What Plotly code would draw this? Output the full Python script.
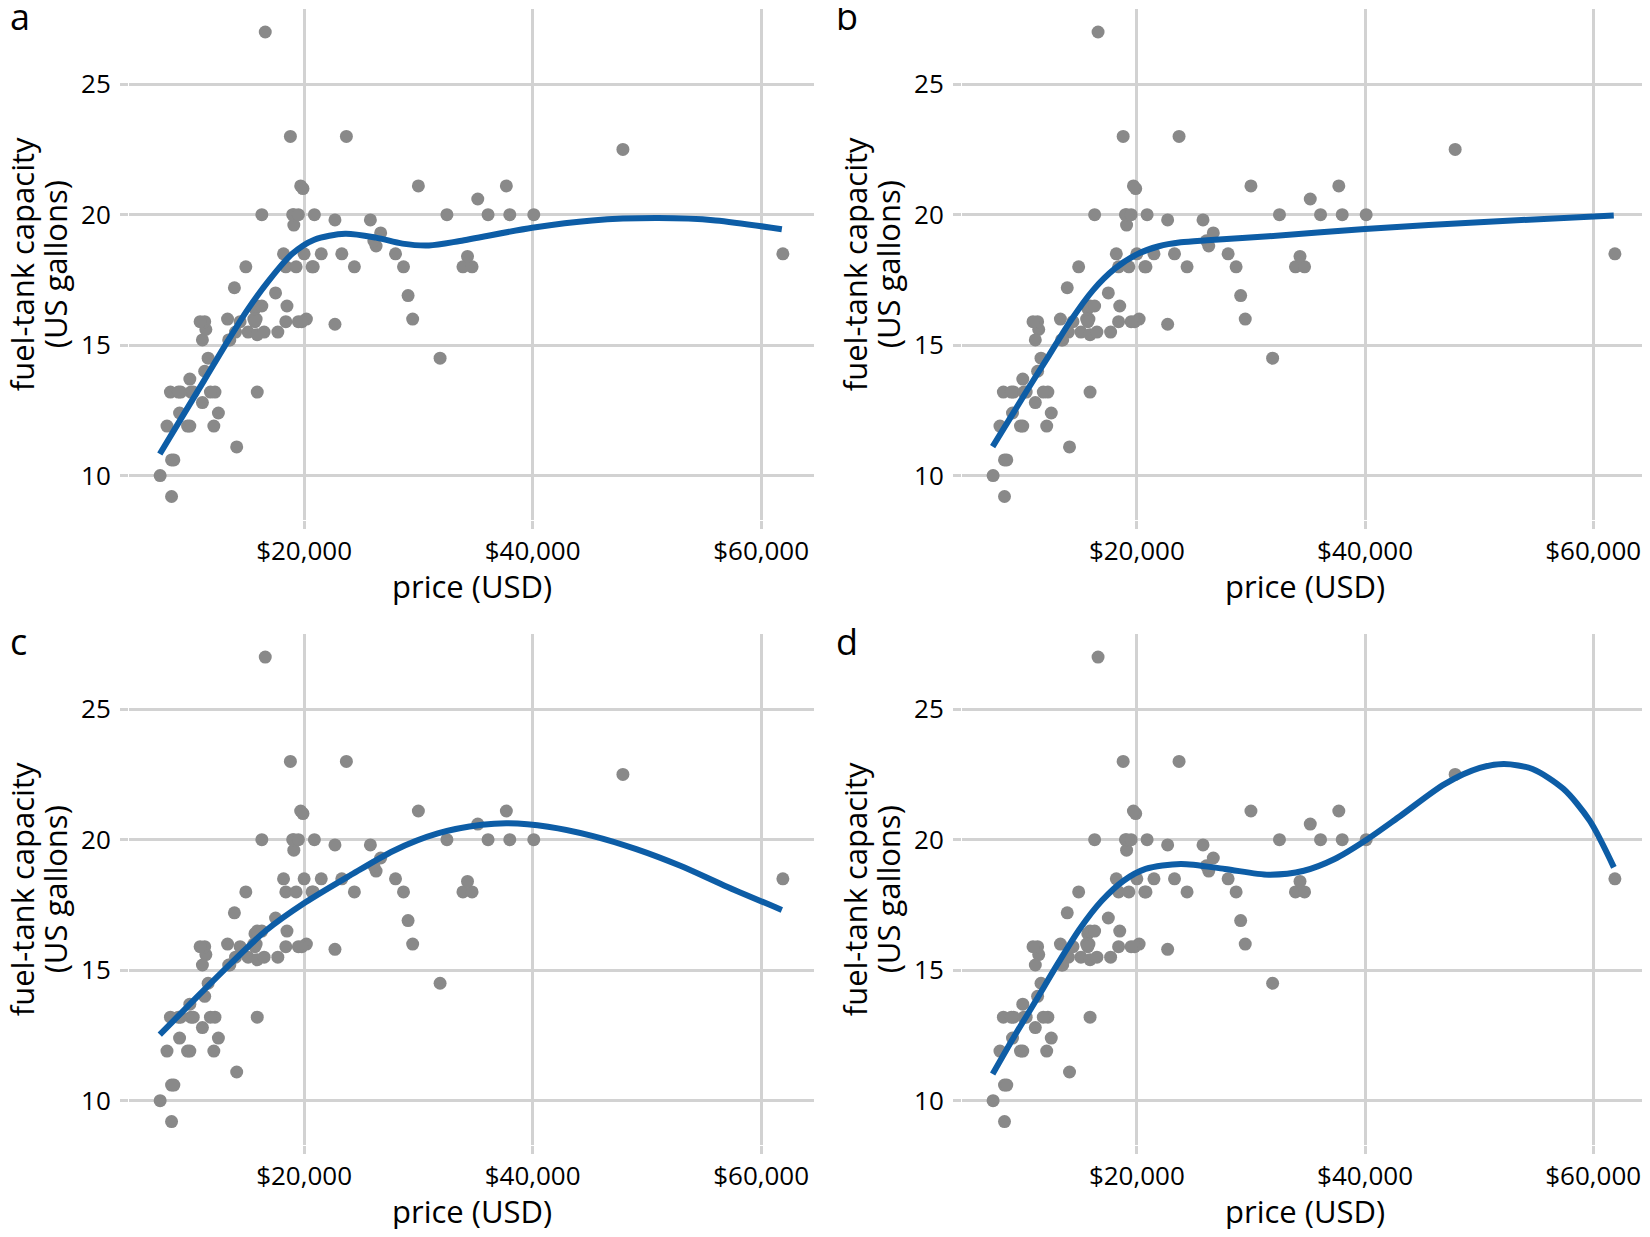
import plotly.graph_objects as go

# Cars93: price (USD) and fuel-tank capacity (US gallons)
price = [15900, 33900, 29100, 37700, 30000, 15700, 20800, 23700, 26300, 34700,
         40100, 13400, 11400, 15100, 15900, 16300, 16600, 18800, 38000, 18400,
         15800, 29500, 9200, 11300, 13300, 19000, 15600, 25800, 12200, 19300,
         7400, 10100, 11300, 15900, 14000, 19900, 20200, 20900, 8400, 12500,
         19800, 12100, 17500, 8000, 10000, 10000, 13900, 47900, 28000, 35200,
         34300, 36100, 8300, 11600, 16500, 19100, 32500, 31900, 61900, 14100,
         14900, 10300, 26100, 11800, 15700, 19100, 21500, 13500, 16300, 19500,
         20700, 14400, 9000, 11100, 17700, 18500, 24400, 28700, 11100, 8400,
         10900, 19500, 8600, 9800, 18400, 18200, 22700, 9100, 19700, 20000,
         23300, 22700, 26700]
fuel = [13.2, 18.0, 16.9, 21.1, 21.1, 16.4, 18.0, 23.0, 18.8, 18.0,
        20.0, 15.2, 15.6, 15.5, 16.5, 20.0, 27.0, 23.0, 20.0, 18.0,
        16.0, 16.0, 13.2, 14.0, 16.0, 20.0, 16.0, 19.8, 13.2, 18.0,
        10.0, 13.2, 15.9, 15.4, 15.5, 21.0, 16.0, 20.0, 10.6, 12.4,
        15.9, 11.9, 17.0, 11.9, 13.7, 11.9, 17.2, 22.5, 18.5, 20.6,
        18.4, 20.0, 13.2, 14.5, 15.5, 19.6, 20.0, 14.5, 18.5, 11.1,
        18.0, 13.2, 19.0, 13.2, 15.9, 20.0, 18.5, 15.2, 16.5, 20.0,
        18.0, 15.9, 13.2, 15.2, 15.5, 16.5, 18.0, 18.0, 12.8, 9.2,
        15.9, 15.9, 10.6, 11.9, 15.9, 18.5, 19.8, 12.4, 21.1, 18.5,
        18.5, 15.8, 19.3]

# smoothing curves
fit_a_x = [7370, 9310, 11240, 13170, 15100, 17030, 18960, 20890, 23590, 26290,
           28610, 30930, 33630, 39960, 45210, 51000, 56020, 61810]
fit_a_y = [10.83, 12.24, 13.64, 15.05, 16.39, 17.54, 18.50, 19.04, 19.27, 19.12,
           18.89, 18.82, 18.99, 19.50, 19.78, 19.87, 19.78, 19.44]

fit_b_x = [7360, 10370, 12290, 14220, 16150, 18070, 20000, 21930, 23850, 26170,
           31560, 40000, 50830, 61800]
fit_b_y = [11.11, 13.26, 14.60, 15.95, 17.10, 17.93, 18.48, 18.79, 18.94, 19.02,
           19.17, 19.45, 19.73, 19.97]

fit_c_x = [7370, 10460, 13550, 16640, 20120, 23980, 27840, 31700, 35560, 37880,
           41350, 45210, 49070, 52930, 56800, 61810]
fit_c_y = [12.53, 13.90, 15.24, 16.51, 17.60, 18.62, 19.58, 20.24, 20.57, 20.63,
           20.50, 20.15, 19.64, 19.00, 18.24, 17.31]

fit_d_x = [7360, 9210, 11140, 13060, 14990, 16920, 18840, 20770, 23850, 27710,
           31560, 34640, 37340, 40000, 43120, 46970, 50060, 52180, 54680, 57380,
           59690, 61810]
fit_d_y = [11.02, 12.43, 13.83, 15.24, 16.58, 17.66, 18.43, 18.88, 19.07, 18.88,
           18.66, 18.81, 19.26, 19.96, 20.92, 22.13, 22.75, 22.90, 22.71, 21.95,
           20.73, 18.94]

panel_labels = ["a", "b", "c", "d"]
x_ticks = [20000, 40000, 60000]
x_ticktext = ["$20,000", "$40,000", "$60,000"]
y_ticks = [10, 15, 20, 25]
x_title = "price (USD)"
y_title_lines = ["fuel-tank capacity", "(US gallons)"]

# page body has an 8px margin, so the figure is sized to fit inside it
W, H = 1634, 1221
FONT = "Open Sans"
GRID = "#d2d2d2"
PT = "#898989"
LINE = "#0d5da6"

x_domains = [[121 / W, 806 / W], [954 / W, 1.0]]
x_ranges = [[4675, 64625], [4675, 64275]]
y_domains = [[1 - 511.7 / H, 1 - 0.8 / H], [1 - 1136.8 / H, 1 - 625.8 / H]]

fits = [(fit_a_x, fit_a_y), (fit_b_x, fit_b_y), (fit_c_x, fit_c_y), (fit_d_x, fit_d_y)]

fig = go.Figure()
annotations = []
for i in range(4):
    col = i % 2
    row = i // 2
    xa = "x" if i == 0 else f"x{i + 1}"
    ya = "y" if i == 0 else f"y{i + 1}"
    fig.add_trace(go.Scatter(x=price, y=fuel, mode="markers", xaxis=xa, yaxis=ya,
                             marker=dict(color=PT, size=13, line=dict(width=0)),
                             showlegend=False, hoverinfo="skip"))
    fx, fy = fits[i]
    fig.add_trace(go.Scatter(x=fx, y=fy, mode="lines", xaxis=xa, yaxis=ya,
                             line=dict(color=LINE, width=6, shape="spline", smoothing=0.8),
                             showlegend=False, hoverinfo="skip"))
    axis_common = dict(showgrid=True, gridcolor=GRID, gridwidth=2.6, zeroline=False,
                       showline=False, ticks="outside", ticklen=8, tickcolor=GRID,
                       tickwidth=2.6, tickfont=dict(family=FONT, size=26, color="black"))
    xkey = "xaxis" if i == 0 else f"xaxis{i + 1}"
    ykey = "yaxis" if i == 0 else f"yaxis{i + 1}"
    fig.update_layout({
        xkey: dict(domain=x_domains[col], anchor=ya, range=x_ranges[col],
                   tickmode="array", tickvals=x_ticks, ticktext=x_ticktext, **axis_common),
        ykey: dict(domain=y_domains[row], anchor=xa, range=[8.31, 27.89],
                   tickmode="array", tickvals=y_ticks, ticklabelstandoff=4, **axis_common),
    })
    x0 = x_domains[col][0]
    xc = (121 + 806) / 2 / W if col == 0 else (954 + 1639) / 2 / W
    y0, y1 = y_domains[row]
    # x axis title
    annotations.append(dict(text=x_title, xref="paper", yref="paper",
                            x=xc, y=y0 - 66 / H, xanchor="center", yanchor="middle",
                            showarrow=False, font=dict(family=FONT, size=31, color="black")))
    # y axis title (two lines)
    for k, (line_txt, off) in enumerate(zip(y_title_lines, [107, 74])):
        annotations.append(dict(text=line_txt, xref="paper", yref="paper",
                                x=x0 - off / W, y=(y0 + y1) / 2, xanchor="center",
                                yanchor="middle", textangle=-90, showarrow=False,
                                font=dict(family=FONT, size=31, color="black")))
    # panel label
    annotations.append(dict(text=panel_labels[i], xref="paper", yref="paper",
                            x=(0 if col == 0 else 826 / W), y=1 - (8 + row * 625) / H,
                            xanchor="left", yanchor="middle", showarrow=False,
                            font=dict(family=FONT, size=36, color="black")))

fig.update_layout(width=W, height=H, margin=dict(l=0, r=0, t=0, b=0),
                  paper_bgcolor="white", plot_bgcolor="white",
                  annotations=annotations, showlegend=False)

fig.write_html("out.html")
